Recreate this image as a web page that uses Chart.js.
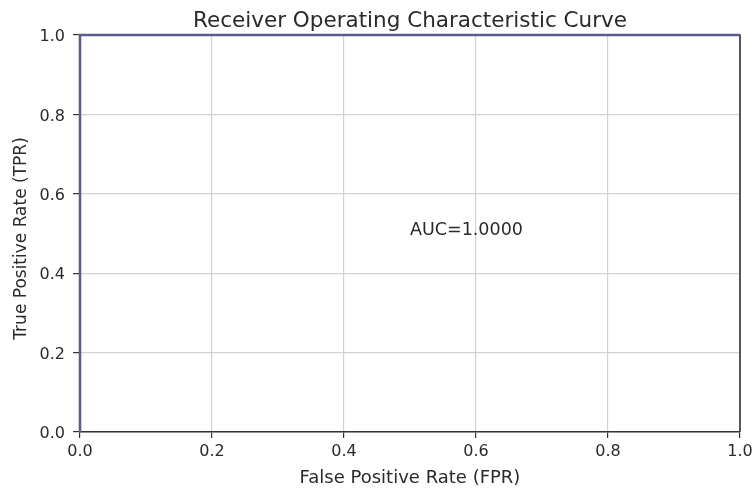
<!DOCTYPE html>
<html>
<head>
<meta charset="utf-8">
<script src="https://cdn.jsdelivr.net/npm/chart.js@4/dist/chart.umd.min.js"></script>
<style>
html,body{margin:0;padding:0;background:#fff;}
#wrap{width:753px;height:492px;}
</style>
</head>
<body>
<div id="wrap"><canvas id="c" width="753" height="492"></canvas></div>
<script>
const fpr = [0, 0, 1];
const tpr = [0, 1, 1];
const tickValues = [0, 0.2, 0.4, 0.6, 0.8, 1.0];
const titleText = 'Receiver Operating Characteristic Curve';
const xLabel = 'False Positive Rate (FPR)';
const yLabel = 'True Positive Rate (TPR)';
const aucText = 'AUC=1.0000';
const aucPos = [0.5, 0.5];

const FONT = "'DejaVu Sans', sans-serif";
const TXT = '#2a2a2a';

const boxPlugin = {
  id: 'boxPlugin',
  beforeDatasetsDraw(chart) {
    const {ctx, chartArea: a} = chart;
    ctx.save();
    ctx.strokeStyle = '#333';
    ctx.lineWidth = 1.6;
    ctx.beginPath();
    ctx.moveTo(a.left, a.top); ctx.lineTo(a.right, a.top); ctx.lineTo(a.right, a.bottom);
    ctx.stroke();
    ctx.restore();
  },
  afterDraw(chart) {
    const {ctx, chartArea: a, scales} = chart;
    ctx.save();
    ctx.fillStyle = TXT;
    ctx.font = '21.5px ' + FONT;
    ctx.textAlign = 'center';
    ctx.textBaseline = 'alphabetic';
    ctx.fillText(titleText, (a.left + a.right) / 2, 27);
    ctx.font = '17.5px ' + FONT;
    ctx.textAlign = 'left';
    ctx.fillText(aucText, scales.x.getPixelForValue(aucPos[0]), scales.y.getPixelForValue(aucPos[1]) + 1);
    // y axis label
    ctx.font = '17px ' + FONT;
    ctx.textAlign = 'center';
    ctx.textBaseline = 'middle';
    ctx.translate(22, (a.top + a.bottom) / 2 + 5);
    ctx.rotate(-Math.PI / 2);
    ctx.fillText(yLabel, 0, 0);
    ctx.restore();
  }
};

new Chart(document.getElementById('c'), {
  type: 'scatter',
  data: {
    datasets: [{
      data: fpr.map((v, i) => ({x: v, y: tpr[i]})),
      showLine: true,
      borderColor: '#5a5e8c',
      borderWidth: 2.6,
      pointRadius: 0,
      fill: false,
      clip: 4
    }]
  },
  options: {
    responsive: false,
    animation: false,
    devicePixelRatio: 1,
    layout: {autoPadding: false, padding: {top: 35, right: 13, left: 0, bottom: 0}},
    plugins: {legend: {display: false}, tooltip: {enabled: false}},
    scales: {
      x: {
        type: 'linear', min: 0, max: 1,
        afterBuildTicks: s => { s.ticks = tickValues.map(v => ({value: v})); },
        afterFit: s => { s.height = 60; s.paddingLeft = 0; s.paddingRight = 0; },
        grid: {color: '#d2d2d2', lineWidth: 1.2, tickLength: 6, tickColor: '#333', drawTicks: true},
        border: {color: '#333', width: 1.6},
        ticks: {color: TXT, font: {family: FONT, size: 16}, padding: 4, maxRotation: 0,
          callback: v => Number(v).toFixed(1)},
        title: {display: true, text: xLabel, color: TXT, font: {family: FONT, size: 18}, padding: {top: 2, bottom: 3}}
      },
      y: {
        type: 'linear', min: 0, max: 1,
        afterBuildTicks: s => { s.ticks = tickValues.map(v => ({value: v})); },
        afterFit: s => { s.width = 80; s.paddingTop = 0; s.paddingBottom = 0; },
        grid: {color: '#d2d2d2', lineWidth: 1.2, tickLength: 7, tickColor: '#333', drawTicks: true},
        border: {color: '#333', width: 1.6},
        ticks: {color: TXT, font: {family: FONT, size: 16}, padding: 8, labelOffset: 2,
          callback: v => Number(v).toFixed(1)},
        title: {display: false}
      }
    }
  },
  plugins: [boxPlugin]
});
</script>
</body>
</html>
